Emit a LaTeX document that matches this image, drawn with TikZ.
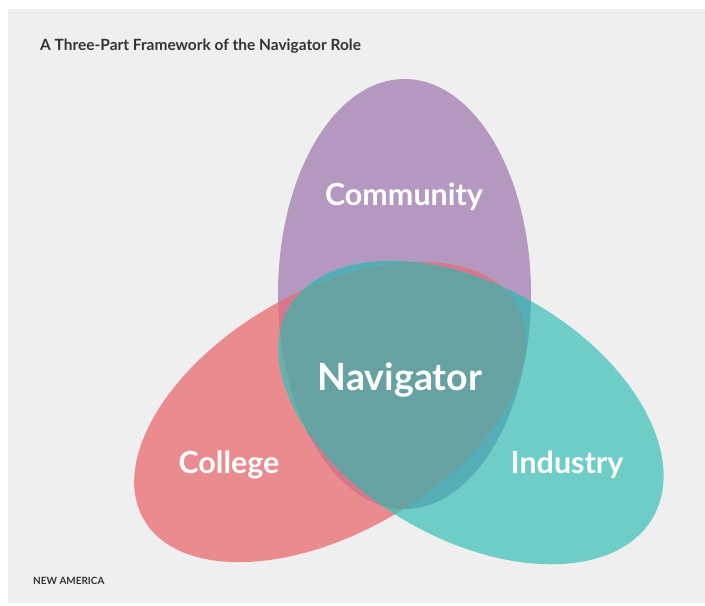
\documentclass[tikz,border=0pt]{standalone}
\usepackage{fontspec}
\setmainfont{Lato}

\definecolor{bggray}{HTML}{EFEFEF}
\definecolor{titlegray}{HTML}{333333}
\definecolor{communitycol}{HTML}{B598BF}
\definecolor{collegecol}{HTML}{EA8B8F}
\definecolor{industrycol}{HTML}{6ECDC7}
\definecolor{commcollcol}{HTML}{D6788C}
\definecolor{commindcol}{HTML}{55AEB6}
\definecolor{collindcol}{HTML}{6AB0AB}
\definecolor{navigatorcol}{HTML}{66A2A2}

% the three ovals
\newcommand{\communityoval}{(404.5,-294) ellipse [x radius=126.5, y radius=215]}
\newcommand{\collegeoval}{[rotate around={30:(330,-412)}] (330,-412) ellipse [x radius=215, y radius=121]}
\newcommand{\industryoval}{[rotate around={-30:(471,-412.5)}] (471,-412.5) ellipse [x radius=210, y radius=126.5]}

\begin{document}
\begin{tikzpicture}[x=0.03cm, y=0.03cm,
    oval label/.style={text=white, anchor=base, inner sep=0pt,
        font=\bfseries\fontsize{26}{30}\selectfont},
    every node/.style={inner sep=0pt}]

% Background
\fill[white] (0,0) rectangle (705,-605);
\fill[bggray] (8,-9) rectangle (705,-603);

% Ovals
\fill[communitycol] \communityoval;
\fill[collegecol] \collegeoval;
\fill[industrycol] \industryoval;

% Overlaps
\begin{scope}
    \clip \communityoval;
    \fill[commcollcol] \collegeoval;
    \fill[commindcol] \industryoval;
\end{scope}
\begin{scope}
    \clip \collegeoval;
    \fill[collindcol] \industryoval;
    \clip \communityoval;
    \fill[navigatorcol] \industryoval;
\end{scope}

% Labels
\node[  anchor=base west,
        text=titlegray,
        font=\bfseries\fontsize{13.2}{16}\selectfont
    ] (title) at (40,-50) {A Three-Part Framework of the Navigator Role};
\node[oval label] (community) at (404,-205) {Community};
\node[  oval label,
        font=\bfseries\fontsize{32}{36}\selectfont
    ] (navigator) at (400,-390) {Navigator};
\node[oval label] (college) at (229,-473) {College};
\node[oval label] (industry) at (567,-473) {Industry};
\node[  anchor=base west,
        text=titlegray,
        font=\bfseries\fontsize{8.5}{10}\selectfont
    ] (brand) at (33,-584) {NEW AMERICA};
\end{tikzpicture}
\end{document}
